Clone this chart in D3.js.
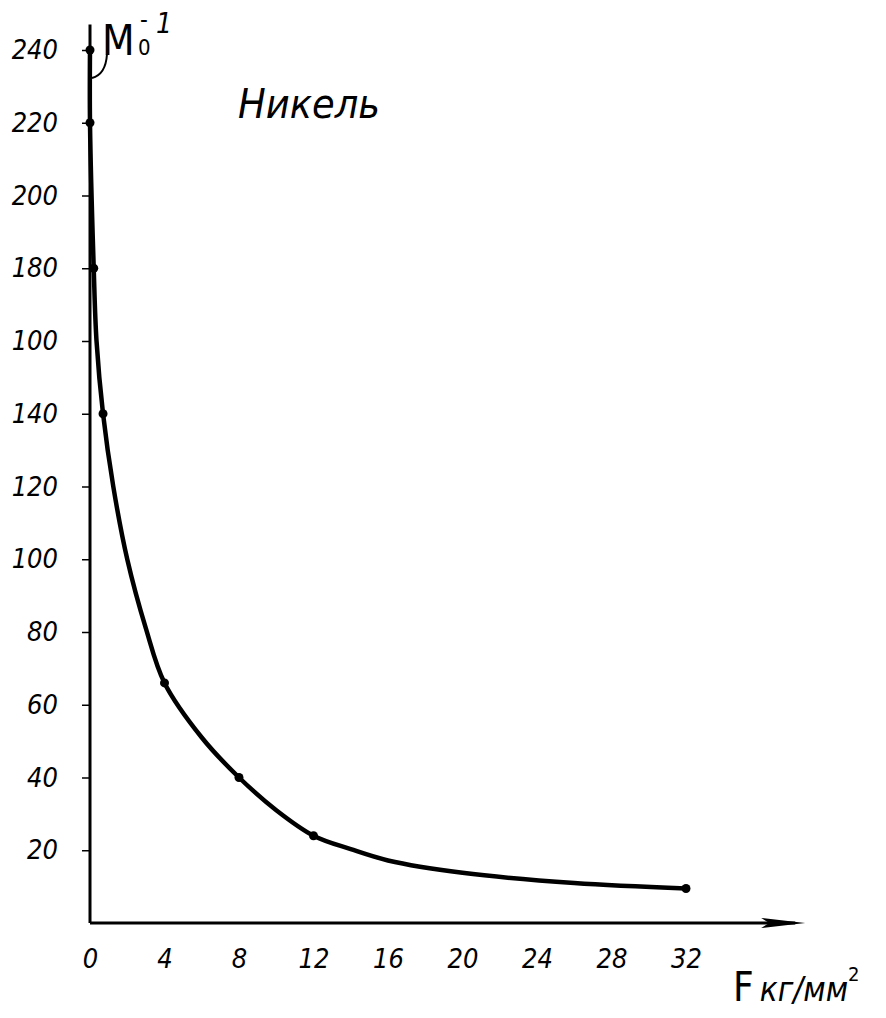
<!DOCTYPE html>
<html>
<head>
<meta charset="utf-8">
<script src="https://cdn.jsdelivr.net/npm/d3@7"></script>
<style>
	body { margin: 0; background: #fff; }
	svg { display: block; background: #fff; }
	.hand { font-family: "DejaVu Sans Condensed", "DejaVu Sans", sans-serif; font-style: italic; fill: #000; }
</style>
</head>
<body>
<div id="chart"></div>
<script>
// measured points (dots) : F in kg/mm2, M0^-1
var dotF = [0, 0, 0.2, 0.7, 4, 8, 12, 32];
var dotM = [240, 220, 180, 140, 66, 40, 24, 9.5];

// values
var curveF = [0, 0, 0.2, 0.35, 0.7, 1.25, 2.0, 3.0, 4, 6, 8, 10, 12, 14, 16, 20, 26, 32];
var curveM = [240, 220, 180, 160, 140, 120, 100, 81, 66, 51, 40, 31, 24, 20.3, 17.2, 13.8, 11, 9.5];

var yTicks = [20, 40, 60, 80, 100, 120, 140, 160, 180, 200, 220, 240];
var yTickLabels = ["20", "40", "60", "80", "100", "120", "140", "100", "180", "200", "220", "240"];
var xTicks = [0, 4, 8, 12, 16, 20, 24, 28, 32];

var width = 886, height = 1018;

var svg = d3.select("#chart").append("svg")
	.attr("width", width)
	.attr("height", height);

var x = d3.scaleLinear().domain([0, 32]).range([90, 686]);
var y = d3.scaleLinear().domain([0, 240]).range([923, 50]);

/* ------- AXES -------*/

var yAxis = d3.axisLeft(y)
	.tickValues(yTicks)
	.tickFormat(function(d, i) { return yTickLabels[i]; })
	.tickSizeInner(8)
	.tickSizeOuter(0)
	.tickPadding(24);

var gy = svg.append("g")
	.attr("transform", "translate(" + x(0) + ",0)")
	.call(yAxis);
gy.select(".domain").remove();
gy.selectAll(".tick line").attr("stroke", "#000").attr("stroke-width", 1.5);
gy.selectAll("text")
	.attr("class", "hand")
	.attr("font-size", "27px");

var xAxis = d3.axisBottom(x)
	.tickValues(xTicks)
	.tickSize(0)
	.tickPadding(26);

var gx = svg.append("g")
	.attr("transform", "translate(0," + y(0) + ")")
	.call(xAxis);
gx.select(".domain").remove();
gx.selectAll("text")
	.attr("class", "hand")
	.attr("font-size", "27px");

// axis lines, y axis runs a bit above 240, x axis ends in an arrow
svg.append("line")
	.attr("x1", x(0)).attr("x2", x(0))
	.attr("y1", y(0)).attr("y2", y(247))
	.attr("stroke", "#000")
	.attr("stroke-width", 3);

var arrowEnd = x(38.4);
svg.append("line")
	.attr("x1", x(0)).attr("x2", arrowEnd - 10)
	.attr("y1", y(0)).attr("y2", y(0))
	.attr("stroke", "#000")
	.attr("stroke-width", 3);

svg.append("path")
	.attr("d", "M" + arrowEnd + "," + y(0) +
		"L" + (arrowEnd - 44) + "," + (y(0) - 5) +
		"L" + (arrowEnd - 36) + "," + y(0) +
		"L" + (arrowEnd - 44) + "," + (y(0) + 5) + "Z")
	.attr("fill", "#000");

/* ------- CURVE AND DOTS -------*/

var curve = curveF.map(function(f, i) { return [f, curveM[i]]; });

var line = d3.line()
	.x(function(d) { return x(d[0]); })
	.y(function(d) { return y(d[1]); })
	.curve(d3.curveCatmullRom.alpha(0.5));

svg.append("path")
	.datum(curve)
	.attr("d", line)
	.attr("fill", "none")
	.attr("stroke", "#000")
	.attr("stroke-width", 4.5)
	.attr("stroke-linecap", "round");

var dots = dotF.map(function(f, i) { return {F: f, M: dotM[i]}; });

svg.selectAll("circle.dot")
	.data(dots)
	.enter().append("circle")
	.attr("class", "dot")
	.attr("cx", function(d) { return x(d.F); })
	.attr("cy", function(d) { return y(d.M); })
	.attr("r", 4.5)
	.attr("fill", "#000");

/* ------- LABELS -------*/

svg.append("text")
	.attr("class", "hand")
	.attr("x", 238)
	.attr("y", 118)
	.attr("font-size", "41px")
	.text("Никель");

// y axis name M0^-1
var my = svg.append("text")
	.attr("class", "hand")
	.attr("x", x(0) + 12)
	.attr("y", 55)
	.attr("font-size", "42px")
	.style("font-style", "normal")
	.text("M");
my.append("tspan")
	.attr("x", x(0) + 48)
	.attr("y", 55)
	.attr("font-size", "22px")
	.text("0");
my.append("tspan")
	.attr("x", x(0) + 50)
	.attr("y", 28)
	.attr("font-size", "24px")
	.text("-");
my.append("tspan")
	.attr("x", x(0) + 66)
	.attr("y", 33)
	.attr("font-size", "28px")
	.style("font-style", "italic")
	.text("1");

svg.append("path")
	.attr("d", "M" + (x(0) + 17) + ",54 C" + (x(0) + 16) + ",70 " + (x(0) + 10) + ",76 " + (x(0) + 2) + ",78")
	.attr("fill", "none")
	.attr("stroke", "#000")
	.attr("stroke-width", 2);

// x axis name F kg/mm2
var fx = svg.append("text")
	.attr("class", "hand")
	.attr("x", 733)
	.attr("y", 1001)
	.attr("font-size", "40px")
	.style("font-style", "normal")
	.text("F");
fx.append("tspan")
	.attr("dx", 6)
	.attr("font-size", "33px")
	.style("font-style", "italic")
	.text("кг/мм");
fx.append("tspan")
	.attr("dy", -20)
	.attr("font-size", "20px")
	.text("2");
</script>
</body>
</html>
